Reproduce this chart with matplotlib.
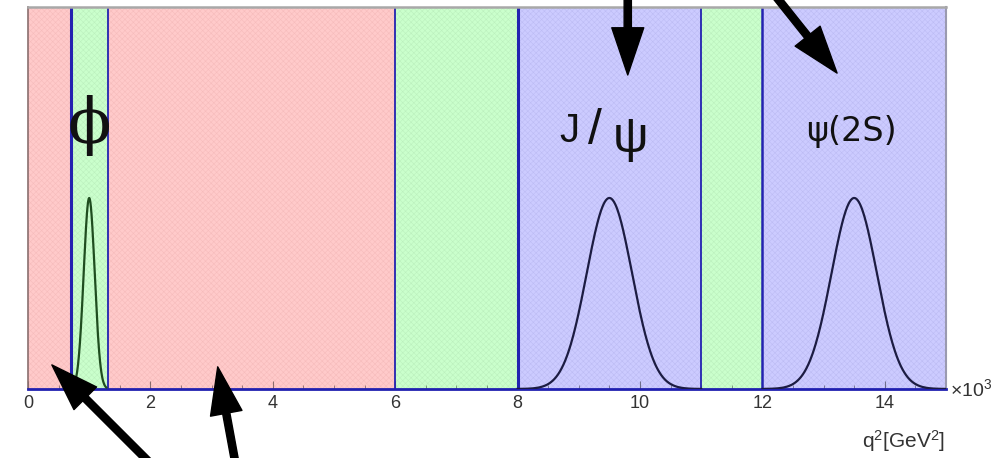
import numpy as np
import matplotlib.pyplot as plt

plt.rcParams['font.family'] = ['Liberation Sans', 'DejaVu Sans']
plt.rcParams['mathtext.fontset'] = 'custom'
plt.rcParams['mathtext.rm'] = 'Liberation Sans'
plt.rcParams['mathtext.it'] = 'Liberation Sans:italic'
plt.rcParams['hatch.linewidth'] = 0.4

# q^2 regions along the axis
region_edges = [0.0, 0.7, 1.3, 6.0, 8.0, 11.0, 12.0, 15.0]
region_kinds = ['pink', 'green', 'pink', 'green', 'blue', 'green', 'blue']
fill_colors = {'pink': '#ffcaca', 'green': '#caffcc', 'blue': '#cccbff'}
hatch_colors = {'pink': '#f6bcbc', 'green': '#bcf0be', 'blue': '#bdbcf4'}

# blue separators and their widths
edge_lines = [0.7, 1.3, 6.0, 8.0, 11.0, 12.0]
edge_widths = [2.2, 1.3, 1.3, 2.2, 1.3, 1.8]

# resonances: mean, width, height, drawing range, line colour
res_names = ['phi', 'jpsi', 'psi2s']
res_means = [1.0, 9.5, 13.5]
res_sigmas = [0.09, 0.37, 0.37]
res_heights = [0.5, 0.5, 0.5]
res_ranges = [(0.72, 1.28), (8.0, 11.0), (12.0, 15.0)]
res_colors = ['#1f4d1f', '#1c1c42', '#1c1c42']

# labels above the peaks: (text, x, y, size, font)
label_parts = [
    ('ϕ', 1.0, 0.69, 46, ['DejaVu Serif']),
    ('J', 8.84, 0.675, 29, ['Liberation Sans']),
    ('/', 9.26, 0.675, 36, ['Liberation Sans']),
    ('ψ', 9.84, 0.655, 36, ['Liberation Sans']),
    ('ψ(2S)', 13.45, 0.675, 24, ['DejaVu Sans']),
]

# arrows: tip (x, y) and tail (x, y); y in axes fraction
arrow_tips = [(9.80, 0.822), (13.22, 0.827), (0.39, 0.063), (3.10, 0.058)]
arrow_tails = [(9.80, 1.06), (12.06, 1.06), (2.22, -0.23), (3.43, -0.23)]

fig = plt.figure(figsize=(10, 4.58), dpi=100)
ax = fig.add_axes([0.028, 0.1507, 0.918, 0.834])

for lo, hi, kind in zip(region_edges[:-1], region_edges[1:], region_kinds):
    ax.axvspan(lo, hi, facecolor=fill_colors[kind], edgecolor=hatch_colors[kind],
               hatch='xxxxxx', linewidth=0, zorder=0)

for xe, lw in zip(edge_lines, edge_widths):
    ax.axvline(xe, color='#2323b0', lw=lw, zorder=2)

for name, mu, sig, h, (lo, hi), col in zip(res_names, res_means, res_sigmas,
                                           res_heights, res_ranges, res_colors):
    xs = np.linspace(lo, hi, 300)
    ys = h * np.exp(-0.5 * ((xs - mu) / sig) ** 2)
    ax.plot(xs, ys, color=col, lw=1.6, zorder=3)

for txt, x, y, fs, fam in label_parts:
    ax.text(x, y, txt, fontsize=fs, ha='center', va='center', family=fam,
            color='#111111', transform=ax.get_xaxis_transform())

for tip, tail in zip(arrow_tips, arrow_tails):
    ax.annotate('', xy=tip, xytext=tail,
                xycoords=ax.get_xaxis_transform(), textcoords=ax.get_xaxis_transform(),
                annotation_clip=False,
                arrowprops=dict(arrowstyle='simple,head_length=34,head_width=23,tail_width=5.2',
                                mutation_scale=1, color='black', shrinkA=0, shrinkB=0))

ax.set_xlim(0, 15)
ax.set_ylim(0, 1)
ax.set_xticks(np.arange(0, 16, 2))
ax.set_xticks(np.arange(0, 15.01, 0.5), minor=True)
ax.set_yticks([])
ax.tick_params(axis='x', which='both', direction='in', colors=(0, 0, 0, 0.45),
               labelcolor='#333333', labelsize=13, pad=4)
ax.tick_params(axis='x', which='major', length=6)
ax.tick_params(axis='x', which='minor', length=3)

ax.spines['bottom'].set_color('#2020b0')
ax.spines['bottom'].set_linewidth(2.0)
ax.spines['top'].set_color('#a8a8a8')
ax.spines['top'].set_linewidth(1.8)
ax.spines['left'].set_color('#8a6e6e')
ax.spines['left'].set_linewidth(1.2)
ax.spines['right'].set_color('#9a9ab0')
ax.spines['right'].set_linewidth(1.5)

ax.text(1.004, 0.0, r'×10$^{3}$', transform=ax.transAxes, fontsize=14,
        color='#333333', ha='left', va='center')
fig.text(0.945, 0.037, r'q$^{2}$[GeV$^{2}$]', fontsize=15, color='#333333',
         ha='right', va='center')

fig.savefig('out.png', dpi=100)
